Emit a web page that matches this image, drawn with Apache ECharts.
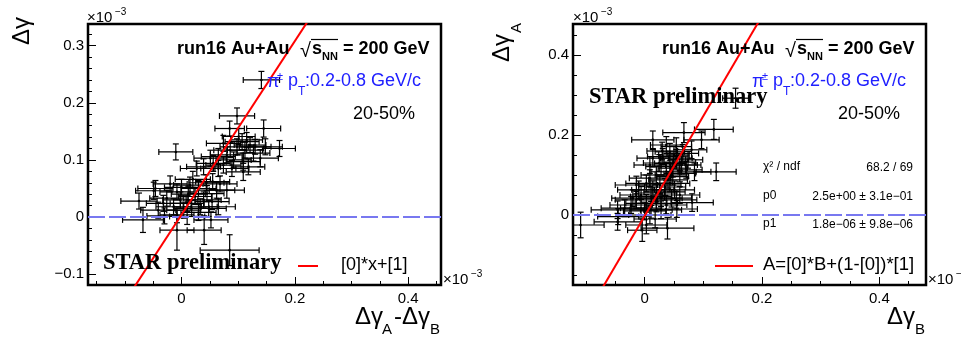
<!DOCTYPE html>
<html><head><meta charset="utf-8">
<script src="https://cdn.jsdelivr.net/npm/echarts@6/dist/echarts.min.js"></script>
<style>html,body{margin:0;padding:0;background:#fff}#c{width:961px;height:341px}</style>
</head><body><div id="c"></div><script>
// values in units of 1e-3 : [x, y, xErr, yErr]
const leftPoints = [
 [0.141,0.240,0.032,0.015],[0.098,0.177,0.031,0.014],[0.145,0.155,0.030,0.015],[0.173,0.120,0.028,0.014],
 [-0.010,0.114,0.030,0.014],[0.085,0.155,0.026,0.013],[0.107,0.132,0.030,0.014],[0.121,0.126,0.028,0.013],
 [0.098,0.123,0.030,0.014],[0.086,0.117,0.029,0.013],[0.112,0.117,0.031,0.014],[0.130,0.123,0.028,0.013],
 [0.065,0.106,0.030,0.014],[0.080,0.109,0.029,0.014],[0.092,0.100,0.031,0.014],[0.109,0.097,0.030,0.015],
 [0.127,0.112,0.029,0.014],[0.139,0.103,0.032,0.015],[0.056,0.094,0.030,0.014],[0.074,0.091,0.031,0.014],
 [0.039,0.088,0.030,0.014],[0.027,0.085,0.029,0.013],[0.065,0.085,0.031,0.014],[0.109,0.079,0.030,0.015],
 [0.118,0.088,0.029,0.014],[0.089,0.085,0.030,0.014],[0.051,0.103,0.029,0.014],[0.074,0.129,0.030,0.014],
 [0.101,0.141,0.029,0.014],[0.148,0.123,0.030,0.014],[0.115,0.135,0.028,0.013],
 [-0.046,0.050,0.031,0.014],[-0.008,0.044,0.030,0.014],[0.015,0.056,0.029,0.014],[0.030,0.050,0.031,0.014],
 [0.045,0.041,0.030,0.014],[0.062,0.047,0.032,0.014],[0.080,0.047,0.031,0.014],[-0.026,0.033,0.030,0.014],
 [-0.002,0.030,0.031,0.014],[0.010,0.024,0.030,0.014],[0.024,0.036,0.029,0.014],[0.039,0.030,0.031,0.014],
 [0.054,0.027,0.030,0.014],[-0.014,0.018,0.031,0.014],[0.004,0.012,0.030,0.014],[0.018,0.015,0.031,0.014],
 [0.033,0.018,0.030,0.014],[0.048,0.015,0.031,0.014],[0.065,0.018,0.030,0.014],[-0.032,0.024,0.030,0.014],
 [-0.041,0.012,0.031,0.014],[-0.008,0.004,0.030,0.014],[0.010,0.001,0.031,0.014],[-0.068,-0.005,0.036,0.022],
 [-0.008,-0.023,0.030,0.035],[0.040,-0.023,0.030,0.025],[0.085,-0.058,0.052,0.027],[-0.075,0.028,0.032,0.014],
 [-0.049,0.046,0.032,0.015],[0.055,0.062,0.030,0.014],[0.020,0.066,0.031,0.014],[0.068,0.058,0.030,0.014],
 [-0.020,0.058,0.030,0.014],[0.030,0.008,0.031,0.014],[0.052,-0.005,0.030,0.014],[-0.030,0.002,0.031,0.014],
 [0.000,0.052,0.030,0.014],[0.012,0.040,0.030,0.014],[0.044,0.060,0.031,0.014]
];
const rightPoints = [
 [0.155,0.292,0.022,0.025],[0.118,0.214,0.033,0.025],[0.067,0.206,0.036,0.025],[0.122,0.108,0.034,0.022],
 [0.014,0.188,0.036,0.022],[0.081,0.031,0.036,0.022],[-0.109,-0.025,0.040,0.032],[0.039,-0.033,0.045,0.027],
 [-0.004,-0.038,0.025,0.028],[-0.045,-0.004,0.035,0.020],[0.097,0.188,0.030,0.022],[0.054,0.171,0.026,0.022],
 [0.043,0.158,0.025,0.021],[0.065,0.154,0.027,0.022],[0.031,0.146,0.026,0.020],[0.054,0.142,0.027,0.022],
 [0.074,0.138,0.025,0.021],[0.014,0.142,0.027,0.022],[0.043,0.129,0.026,0.021],[0.063,0.125,0.027,0.022],
 [0.028,0.121,0.026,0.021],[0.048,0.117,0.025,0.022],[0.071,0.113,0.027,0.021],[0.037,0.108,0.026,0.022],
 [0.060,0.104,0.027,0.021],[0.020,0.100,0.026,0.022],[0.048,0.096,0.027,0.021],[0.085,0.108,0.028,0.022],
 [0.009,0.125,0.027,0.021],[0.080,0.163,0.026,0.022],[0.037,0.175,0.027,0.021],
 [0.003,0.079,0.035,0.021],[0.026,0.075,0.036,0.022],[0.043,0.079,0.034,0.021],[0.014,0.063,0.036,0.022],
 [0.034,0.058,0.035,0.021],[0.051,0.063,0.034,0.022],[-0.006,0.050,0.036,0.021],[0.011,0.046,0.035,0.022],
 [0.028,0.042,0.036,0.021],[0.046,0.042,0.034,0.022],[-0.014,0.038,0.036,0.021],[0.003,0.029,0.035,0.022],
 [0.020,0.029,0.036,0.021],[0.037,0.025,0.035,0.022],[-0.023,0.025,0.036,0.021],[-0.006,0.017,0.035,0.022],
 [0.011,0.013,0.036,0.021],[0.028,0.013,0.035,0.022],[-0.034,0.017,0.040,0.021],[-0.046,0.013,0.045,0.022],
 [-0.020,0.042,0.036,0.021],[0.003,-0.025,0.035,0.022],[-0.046,-0.017,0.040,0.021],[0.009,0.000,0.036,0.022],
 [0.054,0.038,0.035,0.021],[-0.014,0.075,0.036,0.022],[0.009,0.092,0.035,0.021],[0.030,0.160,0.026,0.022],
 [0.060,0.132,0.027,0.021],[0.050,0.150,0.026,0.022],[0.025,0.130,0.027,0.021],[0.070,0.125,0.026,0.022],
 [0.040,0.088,0.033,0.021],[0.020,0.055,0.035,0.022],[0.060,0.050,0.034,0.021],[-0.010,0.063,0.036,0.022],
 [0.035,0.070,0.035,0.021],[0.000,0.010,0.036,0.022],[0.055,0.015,0.035,0.021],[0.018,-0.010,0.036,0.022],
 [0.045,0.100,0.027,0.021]
];
const leftFit = [1.52, 0.004];      // y = [0]*x + [1]
const rightFit = [2.5, 0.0018];     // A = [0]*B + (1-[0])*[1]
const leftXTicks = [0, 0.2, 0.4];
const leftXMinor = [-0.15,-0.1,-0.05,0.05,0.1,0.15,0.25,0.3,0.35,0.45];
const leftYTicks = [-0.1, 0, 0.1, 0.2, 0.3];
const leftYMinor = [-0.08,-0.06,-0.04,-0.02,0.02,0.04,0.06,0.08,0.12,0.14,0.16,0.18,0.22,0.24,0.26,0.28,0.32];
const rightXTicks = [0, 0.2, 0.4];
const rightXMinor = [-0.1,-0.05,0.05,0.1,0.15,0.25,0.3,0.35,0.45];
const rightYTicks = [0, 0.2, 0.4];
const rightYMinor = [-0.15,-0.1,-0.05,0.05,0.1,0.15,0.25,0.3,0.35,0.45];

const LX = [-0.165, 0.458], LY = [-0.119, 0.338];
const RX = [-0.122, 0.4795], RY = [-0.175, 0.4775];

const SANS = '"Liberation Sans", Arial, sans-serif';
const SERIF = '"Liberation Serif", "Times New Roman", serif';
const fmt = v => { const r = +(+v).toFixed(3); return r < 0 ? '\u2212' + (-r) : String(r); };

function xAxis(grid, rng, vals, len, lab) {
  return {type:'value', gridIndex:grid, min:rng[0], max:rng[1], position:'bottom', offset:0,
    axisLine:{show:false, onZero:false}, splitLine:{show:false},
    axisTick:{show:true, inside:true, length:len, customValues:vals, lineStyle:{color:'#000', width:1}},
    axisLabel:{show:lab, customValues:vals, formatter:fmt, color:'#000', fontSize:15, fontFamily:SANS, margin:6}};
}
function yAxis(grid, rng, vals, len, lab) {
  return {type:'value', gridIndex:grid, min:rng[0], max:rng[1], position:'left', offset:0,
    axisLine:{show:false, onZero:false}, splitLine:{show:false},
    axisTick:{show:true, inside:true, length:len, customValues:vals, lineStyle:{color:'#000', width:1}},
    axisLabel:{show:lab, customValues:vals, formatter:fmt, color:'#000', fontSize:15, fontFamily:SANS, margin:4}};
}
function errRender(params, api) {
  const x = api.value(0), y = api.value(1), xe = api.value(2), ye = api.value(3);
  const c = api.coord([x, y]), l = api.coord([x - xe, y]), r = api.coord([x + xe, y]);
  const t = api.coord([x, y + ye]), b = api.coord([x, y - ye]);
  const s = {stroke:'#000', lineWidth:1.2};
  const k = 3;
  const L = (x1,y1,x2,y2) => ({type:'line', shape:{x1,y1,x2,y2}, style:s});
  return {type:'group', children:[
    L(l[0],c[1],r[0],c[1]), L(c[0],t[1],c[0],b[1]),
    L(l[0],c[1]-k,l[0],c[1]+k), L(r[0],c[1]-k,r[0],c[1]+k),
    L(c[0]-k,t[1],c[0]+k,t[1]), L(c[0]-k,b[1],c[0]+k,b[1]),
    {type:'circle', shape:{cx:c[0], cy:c[1], r:1.3}, style:{fill:'#000'}}
  ]};
}
const leftLine = LX.map(x => [x, leftFit[0]*x + leftFit[1]]);
const rightLine = RX.map(x => [x, rightFit[0]*x + (1-rightFit[0])*rightFit[1]]);

function T(x, y, text, font, opt) {
  opt = opt || {};
  const al = opt.align || 'left';
  return {type:'text', x, y, rotation: opt.rot || 0, z: 100,
    style:{text, font, fill: opt.fill || '#000', align:al, verticalAlign:'middle', textAlign:al, textVerticalAlign:'middle'}};
}
function Ln(x1,y1,x2,y2,color,w) {
  return {type:'line', z:100, shape:{x1,y1,x2,y2}, style:{stroke:color, lineWidth:w}};
}
const g = [];
function header(dx) {
  g.push(T(177+dx, 49, 'run16 Au+Au', 'bold 18px ' + SANS));
  g.push(T(300+dx, 51, '\u221A', '20px ' + SANS));
  g.push(Ln(311+dx, 39.5, 338+dx, 39.5, '#000', 1.2));
  g.push(T(312+dx, 49, 's', 'bold 18px ' + SANS));
  g.push(T(322+dx, 57, 'NN', 'bold 11px ' + SANS));
  g.push(T(343+dx, 49, '= 200 GeV', 'bold 18px ' + SANS));
  const B = '#2020ff';
  g.push(T(267+dx, 82, '\u03C0', '18px ' + SANS, {fill:B}));
  g.push(T(277+dx, 77, '\u00B1', '11px ' + SANS, {fill:B}));
  g.push(T(288+dx, 81, 'p', '18px ' + SANS, {fill:B}));
  g.push(T(298+dx, 92, 'T', '12px ' + SANS, {fill:B}));
  g.push(T(305+dx, 81, ':0.2-0.8 GeV/c', '18px ' + SANS, {fill:B}));
  g.push(T(353+dx, 114.5, '20-50%', '18px ' + SANS));
}
header(0); header(485);
// STAR preliminary
g.push(T(103, 263.5, 'STAR preliminary', 'bold 22.5px ' + SERIF));
g.push(T(589, 97.5, 'STAR preliminary', 'bold 22.5px ' + SERIF));
// legends
g.push(Ln(298, 266, 318, 266, '#ff0000', 2));
g.push(T(341, 265, '[0]*x+[1]', '18px ' + SANS));
g.push(Ln(715, 266, 753, 266, '#ff0000', 2));
g.push(T(763, 265, 'A=[0]*B+(1-[0])*[1]', '18.5px ' + SANS));
// stats
g.push(T(763, 167, '\u03C7\u00B2 / ndf', '12px ' + SANS));
g.push(T(913, 168, '68.2 / 69', '12px ' + SANS, {align:'right'}));
g.push(T(763, 196, 'p0', '12px ' + SANS));
g.push(T(913, 197, '2.5e+00 \u00B1 3.1e\u221201', '12px ' + SANS, {align:'right'}));
g.push(T(763, 224, 'p1', '12px ' + SANS));
g.push(T(913, 225, '1.8e\u221206 \u00B1 9.8e\u221206', '12px ' + SANS, {align:'right'}));
// multipliers
function mult(x, y) {
  g.push(T(x, y, '\u00D710', '15px ' + SANS));
  g.push(T(x + 28, y - 6, '\u22123', '10px ' + SANS));
}
mult(87, 18); mult(573, 18); mult(443, 280); mult(928, 280);
// axis titles
g.push(T(355, 317, '\u0394\u03B3', '24px ' + SANS));
g.push(T(382, 330, 'A', '15px ' + SANS));
g.push(T(394, 317, '-\u0394\u03B3', '24px ' + SANS));
g.push(T(430, 330, 'B', '15px ' + SANS));
g.push(T(887, 317, '\u0394\u03B3', '24px ' + SANS));
g.push(T(915, 330, 'B', '15px ' + SANS));
g.push(T(22, 31, '\u0394\u03B3', '24px ' + SANS, {align:'center', rot:Math.PI/2}));
g.push(T(502, 48, '\u0394\u03B3', '24px ' + SANS, {align:'center', rot:Math.PI/2}));
g.push(T(517, 28, 'A', '15px ' + SANS, {align:'center', rot:Math.PI/2}));

const chart = echarts.init(document.getElementById('c'), null, {renderer:'canvas'});
chart.setOption({
  animation:false,
  backgroundColor:'#fff',
  grid:[
    {left:88, top:24, width:353, height:261, show:true, borderColor:'#000', borderWidth:2.5, backgroundColor:'transparent'},
    {left:573, top:24, width:353, height:261, show:true, borderColor:'#000', borderWidth:2.5, backgroundColor:'transparent'}
  ],
  xAxis:[
    xAxis(0, LX, leftXTicks, 8, true), xAxis(0, LX, leftXMinor, 4, false),
    xAxis(1, RX, rightXTicks, 8, true), xAxis(1, RX, rightXMinor, 4, false)
  ],
  yAxis:[
    yAxis(0, LY, leftYTicks, 8, true), yAxis(0, LY, leftYMinor, 4, false),
    yAxis(1, RY, rightYTicks, 8, true), yAxis(1, RY, rightYMinor, 4, false)
  ],
  series:[
    {type:'custom', xAxisIndex:0, yAxisIndex:0, data:leftPoints, renderItem:errRender, clip:true, z:2, encode:{x:0, y:1}},
    {type:'custom', xAxisIndex:2, yAxisIndex:2, data:rightPoints, renderItem:errRender, clip:true, z:2, encode:{x:0, y:1}},
    {type:'line', xAxisIndex:0, yAxisIndex:0, data:LX.map(x=>[x,0]), symbol:'none', z:3, lineStyle:{color:'#7878f0', width:2, type:[17,4]}},
    {type:'line', xAxisIndex:2, yAxisIndex:2, data:RX.map(x=>[x,0]), symbol:'none', z:3, lineStyle:{color:'#7878f0', width:2, type:[17,4]}},
    {type:'line', xAxisIndex:0, yAxisIndex:0, data:leftLine, symbol:'none', z:4, clip:true, lineStyle:{color:'#ff0000', width:2}},
    {type:'line', xAxisIndex:2, yAxisIndex:2, data:rightLine, symbol:'none', z:4, clip:true, lineStyle:{color:'#ff0000', width:2}}
  ],
  graphic:{elements:g}
});
</script></body></html>
